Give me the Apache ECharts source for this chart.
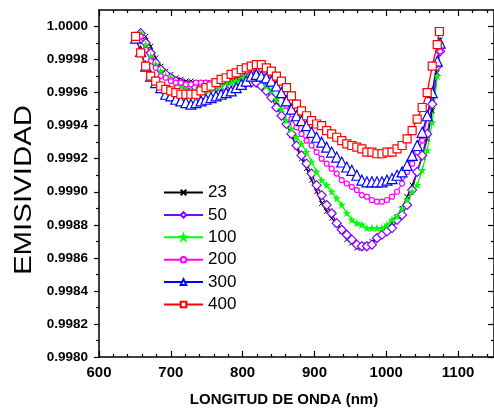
<!DOCTYPE html>
<html><head><meta charset="utf-8">
<script src="https://cdn.jsdelivr.net/npm/echarts@6/dist/echarts.min.js"></script>
<style>html,body{margin:0;padding:0;background:#fff}#c{width:494px;height:409px}</style>
</head><body><div id="c"></div>
<script>
const seriesNames = ['23','50','100','200','300','400'];
const xTicks = [600,700,800,900,1000,1100];
const xMinor = [620,640,660,680,720,740,760,780,820,840,860,880,920,940,960,980,1020,1040,1060,1080,1120,1140];
const yTicks = [0.9980,0.9982,0.9984,0.9986,0.9988,0.9990,0.9992,0.9994,0.9996,0.9998,1.0000];
const yMinor = [0.9981,0.9983,0.9985,0.9987,0.9989,0.9991,0.9993,0.9995,0.9997,0.9999];

const x23 = [665,672,679,686,693,700,707,714,721,728,735,742,749,756,763,770,777,784,791,798,805,812,819,826,833,840,847,854,861,868,875,882,889,896,903,910,917,924,931,938,945,952,959,966,973,980,987,994,1001,1008,1015,1022,1029,1036,1043,1050,1057,1064,1071,1075];
const v23 = [0.99994,0.99988,0.99981,0.99976,0.99973,0.99971,0.99969,0.99968,0.99967,0.99967,0.99966,0.99966,0.99966,0.99966,0.99966,0.99967,0.99967,0.99968,0.99969,0.99969,0.99970,0.99971,0.99971,0.99969,0.99966,0.99960,0.99954,0.99947,0.99941,0.99934,0.99927,0.99920,0.99914,0.99907,0.99900,0.99893,0.99888,0.99884,0.99880,0.99876,0.99871,0.99869,0.99866,0.99866,0.99868,0.99870,0.99872,0.99875,0.99878,0.99881,0.99885,0.99890,0.99897,0.99904,0.99912,0.99921,0.99932,0.99949,0.99972,0.99992];

const x50 = [658,665,672,679,686,693,700,707,714,721,728,735,742,749,756,763,770,777,784,791,798,805,812,819,826,833,840,847,854,861,868,875,882,889,896,903,910,917,924,931,938,945,952,959,966,973,980,987,994,1001,1008,1015,1022,1029,1036,1043,1050,1057,1064,1071,1075];
const v50 = [0.99996,0.99990,0.99984,0.99978,0.99974,0.99971,0.99969,0.99967,0.99966,0.99964,0.99964,0.99963,0.99963,0.99963,0.99963,0.99963,0.99963,0.99963,0.99964,0.99965,0.99966,0.99966,0.99966,0.99966,0.99964,0.99961,0.99957,0.99951,0.99946,0.99941,0.99935,0.99928,0.99922,0.99917,0.99911,0.99904,0.99898,0.99892,0.99887,0.99881,0.99877,0.99874,0.99871,0.99868,0.99867,0.99867,0.99868,0.99872,0.99874,0.99876,0.99878,0.99883,0.99886,0.99892,0.99901,0.99912,0.99922,0.99935,0.99953,0.99976,0.99985];

const x100 = [658,665,672,679,686,693,700,707,714,721,728,735,742,749,756,763,770,777,784,791,798,805,812,819,826,833,840,847,854,861,868,875,882,889,896,903,910,917,924,931,938,945,952,959,966,973,980,987,994,1001,1008,1015,1022,1029,1036,1043,1050,1057,1064,1071,1075];
const v100 = [0.99996,0.99989,0.99982,0.99977,0.99973,0.99970,0.99969,0.99966,0.99964,0.99963,0.99961,0.99961,0.99961,0.99961,0.99962,0.99963,0.99964,0.99966,0.99966,0.99967,0.99969,0.99970,0.99970,0.99970,0.99969,0.99964,0.99961,0.99956,0.99950,0.99943,0.99938,0.99933,0.99929,0.99924,0.99918,0.99912,0.99907,0.99904,0.99900,0.99896,0.99892,0.99887,0.99883,0.99881,0.99880,0.99878,0.99878,0.99878,0.99878,0.99880,0.99883,0.99885,0.99890,0.99895,0.99900,0.99904,0.99913,0.99925,0.99942,0.99970,0.99989];

const x200 = [658,665,672,679,686,693,700,707,714,721,728,735,742,749,756,763,770,777,784,791,798,805,812,819,826,833,840,847,854,861,868,875,882,889,896,903,910,917,924,931,938,945,952,959,966,973,980,987,994,1001,1008,1015,1022,1029,1036,1043,1050,1057,1064,1071,1075];
const v200 = [0.99994,0.99986,0.99979,0.99975,0.99970,0.99969,0.99967,0.99966,0.99966,0.99965,0.99965,0.99966,0.99966,0.99966,0.99966,0.99967,0.99967,0.99969,0.99970,0.99971,0.99972,0.99973,0.99973,0.99974,0.99974,0.99972,0.99969,0.99965,0.99959,0.99952,0.99944,0.99939,0.99935,0.99931,0.99928,0.99924,0.99920,0.99917,0.99914,0.99911,0.99907,0.99905,0.99903,0.99901,0.99898,0.99897,0.99895,0.99894,0.99894,0.99895,0.99897,0.99900,0.99905,0.99912,0.99917,0.99924,0.99931,0.99945,0.99960,0.99977,0.99985];

const x300 = [651,658,665,672,679,686,693,700,707,714,721,728,735,742,749,756,763,770,777,784,791,798,805,812,819,826,833,840,847,854,861,868,875,882,889,896,903,910,917,924,931,938,945,952,959,966,973,980,987,994,1001,1008,1015,1022,1029,1036,1043,1050,1057,1064,1071,1075];
const v300 = [0.99993,0.99985,0.99976,0.99970,0.99966,0.99963,0.99959,0.99958,0.99956,0.99955,0.99954,0.99953,0.99954,0.99955,0.99956,0.99957,0.99958,0.99959,0.99960,0.99961,0.99963,0.99965,0.99967,0.99970,0.99971,0.99970,0.99969,0.99967,0.99964,0.99960,0.99955,0.99950,0.99946,0.99943,0.99940,0.99936,0.99933,0.99930,0.99927,0.99924,0.99921,0.99918,0.99915,0.99913,0.99910,0.99907,0.99906,0.99906,0.99906,0.99906,0.99907,0.99908,0.99910,0.99912,0.99916,0.99922,0.99928,0.99936,0.99946,0.99960,0.99979,0.99990];

const x400 = [651,658,665,672,679,686,693,700,707,714,721,728,735,742,749,756,763,770,777,784,791,798,805,812,819,826,833,840,847,854,861,868,875,882,889,896,903,910,917,924,931,938,945,952,959,966,973,980,987,994,1001,1008,1015,1022,1029,1036,1043,1050,1057,1064,1071,1074];
const v400 = [0.99994,0.99984,0.99976,0.99970,0.99967,0.99964,0.99962,0.99961,0.99960,0.99959,0.99959,0.99959,0.99959,0.99961,0.99963,0.99964,0.99966,0.99968,0.99969,0.99971,0.99972,0.99974,0.99975,0.99976,0.99977,0.99977,0.99975,0.99973,0.99970,0.99967,0.99963,0.99958,0.99953,0.99949,0.99946,0.99943,0.99941,0.99940,0.99937,0.99935,0.99933,0.99931,0.99929,0.99928,0.99927,0.99926,0.99924,0.99924,0.99923,0.99923,0.99924,0.99924,0.99926,0.99928,0.99932,0.99937,0.99944,0.99951,0.99960,0.99976,0.99989,0.99997];

const xs = [x23,x50,x100,x200,x300,x400];
const vs = [v23,v50,v100,v200,v300,v400];
const colors = ['#000000','#8000ff','#00ff00','#ff00ff','#0000ff','#ff0000'];
const FONT = '"Liberation Sans", Arial, sans-serif';

const crossPath = 'path://M0,0L10,10M10,0L0,10';
const starPath = 'path://M5,0L6.2,3.6L10,3.6L6.9,5.9L8.1,9.5L5,7.3L1.9,9.5L3.1,5.9L0,3.6L3.8,3.6Z';
const symbols = [crossPath,'diamond',starPath,'circle','triangle','rect'];
const sizes = [5,9,5,5,10,8];
const fills = ['#000000','#ffffff','#00ff00','#ffffff','#ffffff','#ffffff'];

function zip(a,b){ const out=[]; for(let i=0;i<a.length;i++) out.push([a[i],b[i]]); return out; }

const series = seriesNames.map((n,i)=>({
  name:n, type:'line', data: zip(xs[i],vs[i]),
  symbol: symbols[i], symbolSize: sizes[i], showAllSymbol:true,
  lineStyle:{color:colors[i], width:1.3},
  itemStyle:{color:fills[i], borderColor:colors[i], borderWidth: i===0?1:1.2},
  emphasis:{disabled:true}, animation:false
}));

const MIN = 0.998, MAX = 1.0001;
const chart = echarts.init(document.getElementById('c'), null, {renderer:'canvas'});
chart.setOption({
  animation:false,
  textStyle:{fontFamily:FONT},
  grid:{left:99, top:10, right:-3, bottom:52, containLabel:false},
  legend:{orient:'vertical', left:163, top:184, padding:0, itemWidth:39, itemHeight:7, itemGap:5.4,
    textStyle:{fontSize:17, color:'#000', fontFamily:FONT}, data:seriesNames, selectedMode:false},
  xAxis:[
    {type:'value', min:600, max:1150, position:'bottom',
     axisLine:{lineStyle:{color:'#000', width:1.5}},
     axisTick:{inside:true, length:6, customValues:xTicks, lineStyle:{color:'#000', width:1.2}},
     axisLabel:{customValues:xTicks, color:'#000', fontWeight:'bold', fontSize:15, fontFamily:FONT, margin:8,
       formatter:(v)=>String(v)},
     splitLine:{show:false}},
    {type:'value', min:600, max:1150, position:'bottom',
     axisLine:{show:false}, axisLabel:{show:false}, splitLine:{show:false},
     axisTick:{inside:true, length:3, customValues:xMinor, lineStyle:{color:'#000', width:1.2}}},
    {type:'value', min:600, max:1150, position:'top',
     axisLine:{lineStyle:{color:'#000', width:1.5}}, axisLabel:{show:false}, splitLine:{show:false},
     axisTick:{inside:true, length:6, customValues:xTicks, lineStyle:{color:'#000', width:1.2}}},
    {type:'value', min:600, max:1150, position:'top',
     axisLine:{show:false}, axisLabel:{show:false}, splitLine:{show:false},
     axisTick:{inside:true, length:3, customValues:xMinor, lineStyle:{color:'#000', width:1.2}}}
  ],
  yAxis:[
    {type:'value', min:MIN, max:MAX, position:'left',
     axisLine:{lineStyle:{color:'#000', width:1.5}},
     axisTick:{inside:false, length:5, customValues:yTicks, lineStyle:{color:'#000', width:1.2}},
     axisLabel:{customValues:yTicks, color:'#000', fontWeight:'bold', fontSize:13.5, fontFamily:FONT, margin:11,
       formatter:(v)=>v.toFixed(4)},
     splitLine:{show:false}},
    {type:'value', min:MIN, max:MAX, position:'left',
     axisLine:{show:false}, axisLabel:{show:false}, splitLine:{show:false},
     axisTick:{inside:false, length:3, customValues:yMinor, lineStyle:{color:'#000', width:1.2}}},
    {type:'value', min:MIN, max:MAX, position:'right',
     axisLine:{lineStyle:{color:'#000', width:1.5}}, axisLabel:{show:false}, splitLine:{show:false},
     axisTick:{inside:true, length:6, customValues:yTicks, lineStyle:{color:'#000', width:1.2}}},
    {type:'value', min:MIN, max:MAX, position:'right',
     axisLine:{show:false}, axisLabel:{show:false}, splitLine:{show:false},
     axisTick:{inside:true, length:3, customValues:yMinor, lineStyle:{color:'#000', width:1.2}}}
  ],
  graphic:[
    {type:'text', x:25, y:190, rotation:Math.PI/2, scaleX:1.28,
     style:{text:'EMISIVIDAD', fill:'#000', font:'23px "Liberation Sans", Arial, sans-serif', textAlign:'center', textVerticalAlign:'middle'}},
    {type:'text', x:284, y:400,
     style:{text:'LONGITUD DE ONDA (nm)', fill:'#000', font:'bold 15px "Liberation Sans", Arial, sans-serif', textAlign:'center', textVerticalAlign:'middle'}}
  ],
  series: series
});
</script></body></html>
